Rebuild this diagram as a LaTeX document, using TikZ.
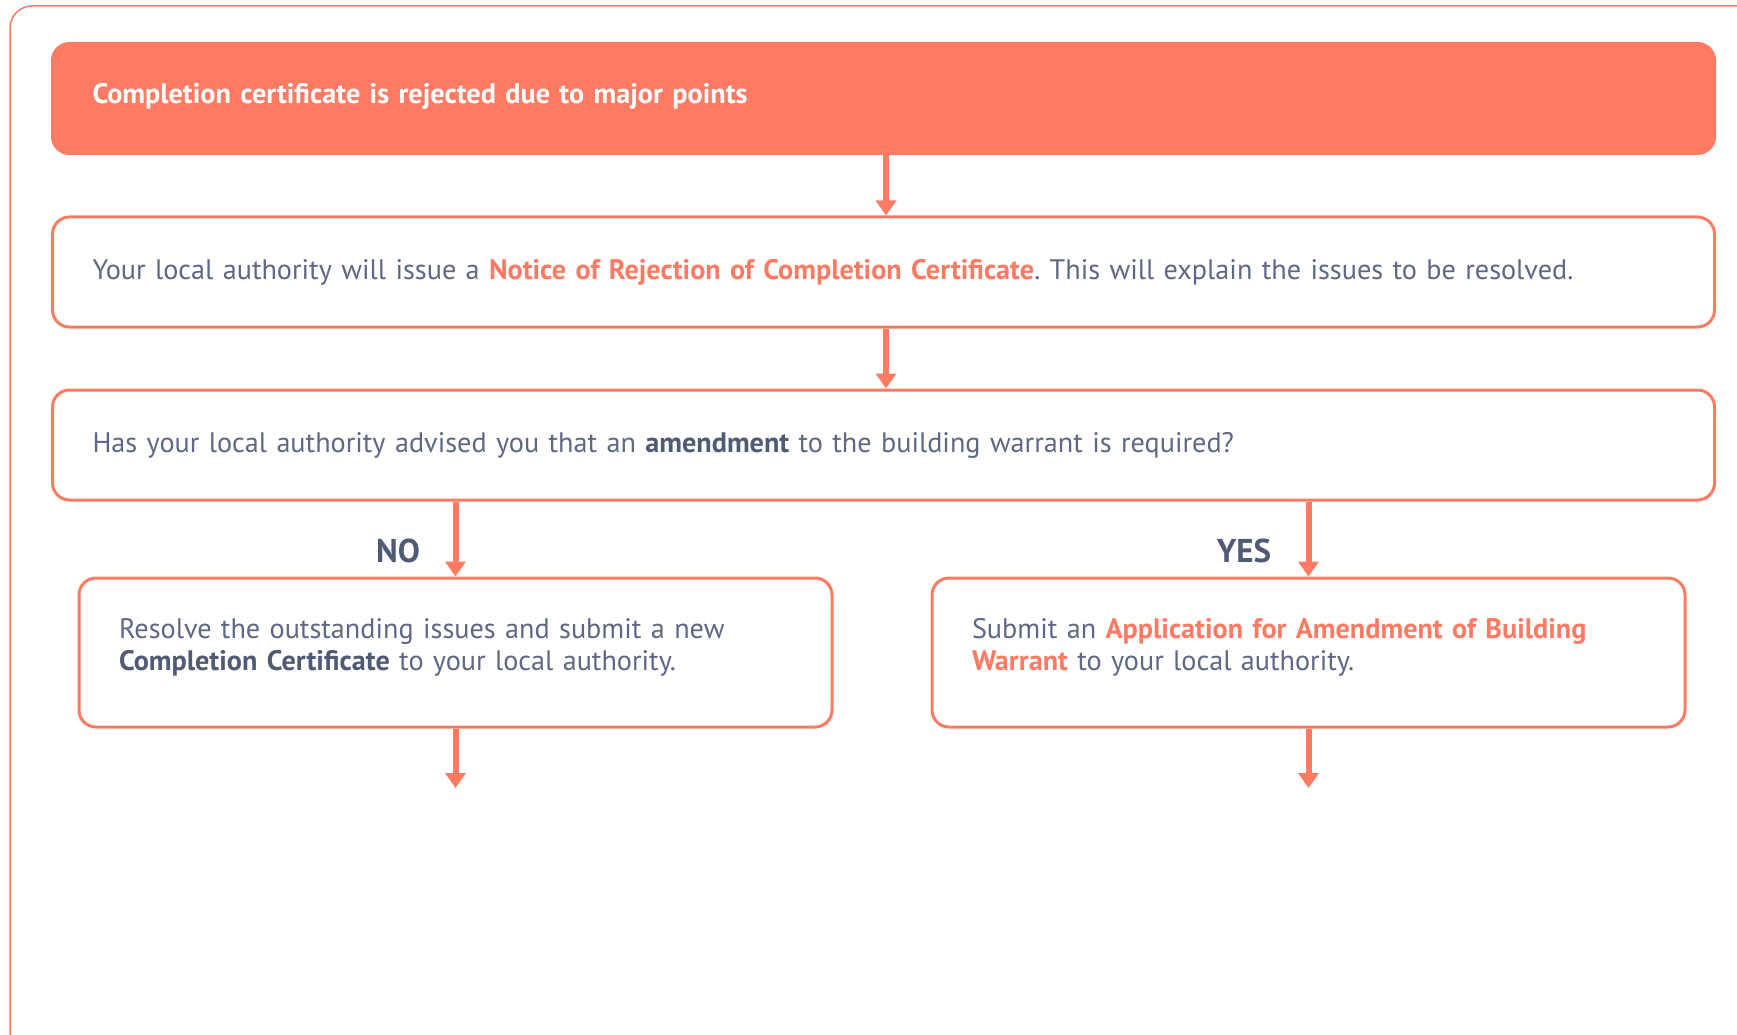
\documentclass[tikz,border=0pt]{standalone}
\usepackage{fontspec}
\setmainfont{PT Sans}
\usetikzlibrary{arrows.meta}
\definecolor{salmon}{HTML}{FF7A62}
\definecolor{slate}{HTML}{5E6884}
\definecolor{slatedark}{HTML}{505A75}

\begin{document}
\frenchspacing
\begin{tikzpicture}[x=1pt,y=1pt]
\tikzstyle{frame}=[draw=salmon,line width=1.5pt,rounded corners=22pt]
\tikzstyle{box}=[draw=salmon,line width=3pt,rounded corners=17pt,fill=white,text=slate,align=left,inner xsep=40pt,font=\fontsize{28.2}{32}\selectfont]
\tikzstyle{head}=[box,fill=salmon,text=white,font=\fontsize{28.2}{32}\selectfont\bfseries,execute at end node={\endgraf\vspace*{5pt}}]
\tikzstyle{wide}=[minimum height=110pt,text width=1582pt]
\tikzstyle{half}=[minimum height=149pt,text width=673pt,execute at end node={\endgraf\vspace*{11pt}}]
\tikzstyle{lbl}=[text=slatedark,font=\fontsize{33}{36}\selectfont\bfseries]
\tikzstyle{flow}=[draw=salmon,line width=6pt,-{Triangle[width=20pt,length=15pt]}]
\useasboundingbox (0,0) rectangle (1737,-1035);
\draw[frame] (10,-6) rectangle (1790,-1080);

\node[head,wide] (rej) at (883.5,-98.5) {Completion certificate is rejected due to major points};
\node[box,wide] (notice) at (883.5,-272) {Your local authority will issue a \textcolor{salmon}{\bfseries Notice of Rejection of Completion Certificate}. This will explain the issues to be resolved.};
\node[box,wide] (ask) at (883.5,-445) {Has your local authority advised you that an \textcolor{slatedark}{\bfseries amendment} to the building warrant is required?};
\node[box,half] (no) at (455.5,-652.5) {Resolve the outstanding issues and submit a new\\ \textcolor{slatedark}{\bfseries Completion Certificate} to your local authority.};
\node[box,half] (yes) at (1308.5,-652.5) {Submit an \textcolor{salmon}{\bfseries Application for Amendment of Building}\\ \textcolor{salmon}{\bfseries Warrant} to your local authority.};
\node[lbl] (nolbl) at (398,-551) {NO};
\node[lbl] (yeslbl) at (1244,-551) {YES};
\coordinate (noend) at (455.5,-788);
\coordinate (yesend) at (1308.5,-788);

\draw[flow] ([xshift=2.5pt]rej.south) -- ([xshift=2.5pt]notice.north);
\draw[flow] ([xshift=2.5pt]notice.south) -- ([xshift=2.5pt]ask.north);
\draw[flow] (no.north |- ask.south) -- (no.north);
\draw[flow] (yes.north |- ask.south) -- (yes.north);
\draw[flow] (no) -- (noend);
\draw[flow] (yes) -- (yesend);
\end{tikzpicture}
\end{document}
